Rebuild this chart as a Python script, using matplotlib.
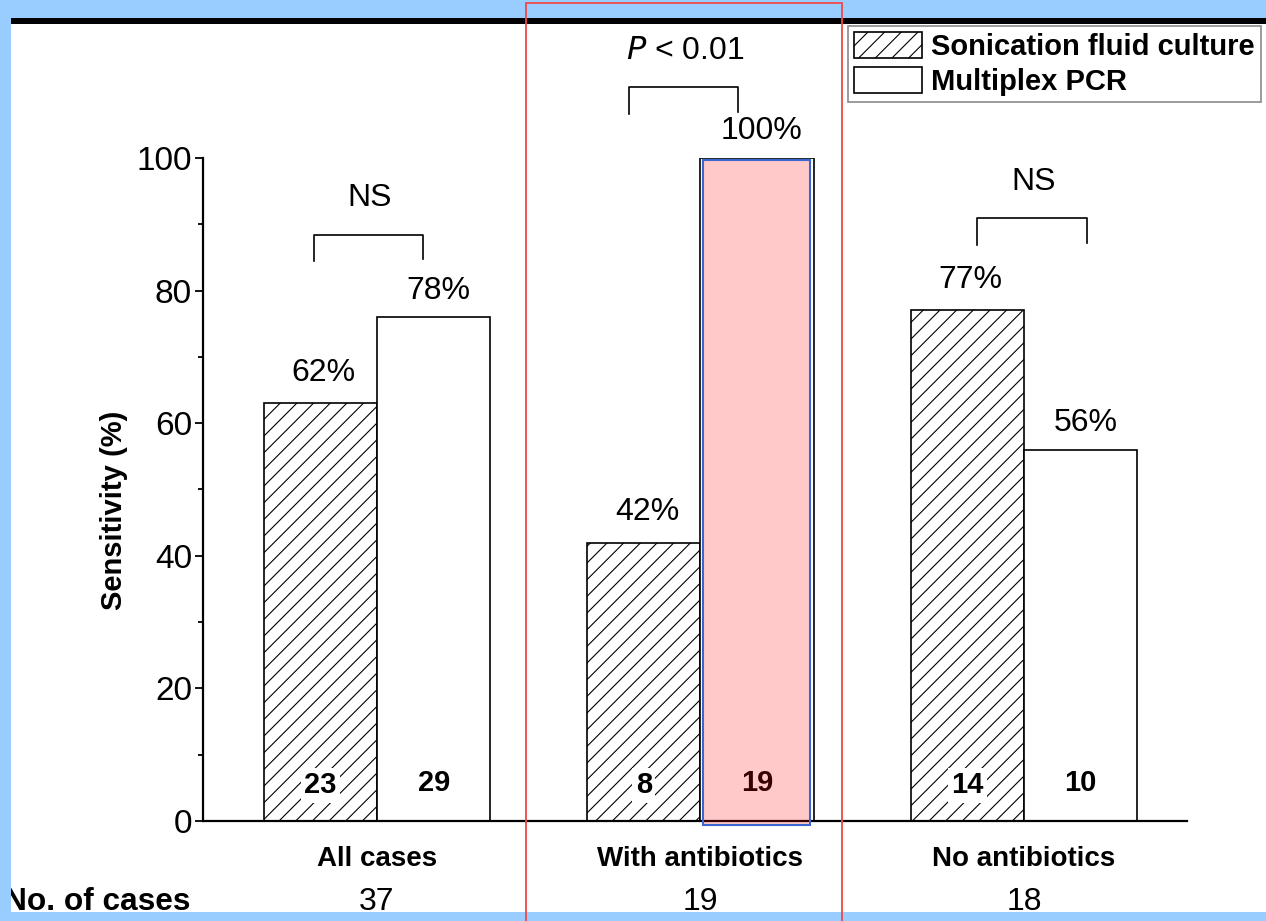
import numpy as np
import matplotlib.pyplot as plt
from matplotlib.patches import Rectangle
from matplotlib.transforms import blended_transform_factory

plt.rcParams['font.family'] = ['Liberation Sans', 'DejaVu Sans']
plt.rcParams['hatch.linewidth'] = 0.8

# data
groups = ['All cases', 'With antibiotics', 'No antibiotics']
n_cases = ['37', '19', '18']
sonication = [63, 42, 77]
pcr = [76, 100, 56]
sonication_lbl = ['62%', '42%', '77%']
pcr_lbl = ['78%', '100%', '56%']
sonication_n = ['23', '8', '14']
pcr_n = ['29', '19', '10']
sig_text = ['NS', '$\\it{P}$ < 0.01', 'NS']

W, H = 1266, 921
fig = plt.figure(figsize=(W / 100, H / 100), dpi=100)
ax = fig.add_axes([203 / W, 100 / H, 984 / W, 663 / H])

x = np.arange(1, len(groups) + 1)
bw = 0.35
b1 = ax.bar(x - bw / 2, sonication, bw, color='white', edgecolor='black',
            hatch='//', linewidth=1.2, label='Sonication fluid culture')
b2 = ax.bar(x + bw / 2, pcr, bw, color='white', edgecolor='black',
            linewidth=1.2, label='Multiplex PCR')

ax.set_xlim(0.462, 3.504)
ax.set_ylim(0, 100)
for s in ['top', 'right']:
    ax.spines[s].set_visible(False)
for s in ['left', 'bottom']:
    ax.spines[s].set_linewidth(1.6)
ax.set_yticks(np.arange(0, 101, 20))
ax.set_yticks(np.arange(0, 101, 10), minor=True)
ax.tick_params(axis='y', which='major', length=6, width=1.3, labelsize=24, pad=2)
ax.tick_params(axis='y', which='minor', length=3.5, width=1.3)
ax.set_xticks(x)
ax.set_xticklabels(groups, fontsize=20, fontweight='bold')
ax.tick_params(axis='x', length=0, pad=18)
ax.set_ylabel('Sensitivity (%)', fontsize=21, fontweight='bold')
ax.yaxis.set_label_coords(-0.076, 0.469)

# value labels above bars
for i in range(len(groups)):
    ax.text(x[i] - bw / 2 + 0.01, sonication[i] + 4.6, sonication_lbl[i],
            ha='center', va='center', fontsize=23, clip_on=False)
    ax.text(x[i] + bw / 2 + 0.015, pcr[i] + 4.0, pcr_lbl[i], ha='center',
            va='center', fontsize=23, clip_on=False)
    ax.text(x[i] - bw / 2, 5.4, sonication_n[i], ha='center', va='center',
            fontsize=21, fontweight='bold',
            bbox=dict(facecolor='white', edgecolor='none', pad=2.5))
    ax.text(x[i] + bw / 2, 5.8, pcr_n[i], ha='center', va='center',
            fontsize=21, fontweight='bold')

# significance brackets
br_left = [-0.195, -0.221, -0.145]
br_right = [0.142, 0.116, 0.195]
br_top = [88.4, 110.7, 90.9]
for i in range(len(groups)):
    xl, xr, yt = x[i] + br_left[i], x[i] + br_right[i], br_top[i]
    ax.plot([xl, xl, xr, xr], [yt - 4.0, yt, yt, yt - 3.7], color='black',
            lw=1.2, clip_on=False)
    ax.text((xl + xr) / 2 + 0.005, yt + 5.5, sig_text[i], ha='center',
            va='center', fontsize=23, clip_on=False)

# number of cases row
trans = blended_transform_factory(ax.transData, ax.transAxes)
ax.text(-0.013, -0.122, 'No. of cases', transform=ax.transAxes, ha='right',
        va='center', fontsize=22.8, fontweight='bold')
for i in range(len(groups)):
    ax.text(x[i], -0.122, n_cases[i], transform=trans, ha='center',
            va='center', fontsize=23)

# highlight on the PCR bar of the antibiotics group
ax.add_patch(Rectangle((2.008, -0.6), 0.33, 100.3, facecolor=(1, 0, 0, 0.21),
                       edgecolor='#3a66d0', linewidth=1.5, clip_on=False,
                       zorder=5))

leg = fig.legend(handles=[b1, b2], loc='upper left',
                 bbox_to_anchor=(848 / W, 1 - 26 / H), frameon=True,
                 fancybox=False, edgecolor='#8a8a8a', framealpha=1,
                 prop={'size': 21, 'weight': 'bold'}, borderpad=0.2,
                 handlelength=2.35, handleheight=1.0, handletextpad=0.3,
                 labelspacing=0.22, borderaxespad=0)
leg.get_frame().set_linewidth(1.2)

# slide frame
blue = '#99ccff'
fig.add_artist(Rectangle((0, 0), 11 / W, 1, transform=fig.transFigure,
                         facecolor=blue, edgecolor='none', zorder=10))
fig.add_artist(Rectangle((0, 1 - 18 / H), 1, 18 / H, transform=fig.transFigure,
                         facecolor=blue, edgecolor='none', zorder=10))
fig.add_artist(Rectangle((0, 0), 1, 9 / H, transform=fig.transFigure,
                         facecolor=blue, edgecolor='none', zorder=10))
fig.add_artist(Rectangle((11 / W, 1 - 24 / H), 1, 6 / H,
                         transform=fig.transFigure, facecolor='black',
                         edgecolor='none', zorder=11))
fig.add_artist(Rectangle((526 / W, -0.01), 316 / W, 1.007,
                         transform=fig.transFigure, facecolor='none',
                         edgecolor='#f04848', linewidth=1.3, zorder=12))

fig.savefig('out.png', dpi=100)
